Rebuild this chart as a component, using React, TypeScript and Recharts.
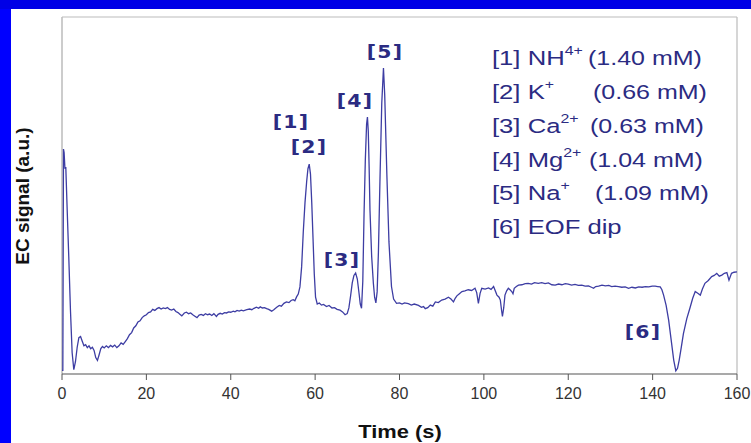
import { Line, LineChart, ReferenceLine, XAxis, YAxis } from "recharts";

// time axis (s) and EC signal (arbitrary units, 0..100 = frame height)
const seconds = [
  0, 0.2, 0.35, 0.5, 0.7, 0.9, 1.2, 1.6, 2.0, 2.4, 2.8, 3.2, 3.6, 4.0, 4.4, 4.8, 5.2, 5.6, 6.0, 6.4,
  6.8, 7.2, 7.6, 8.0, 8.4, 8.8, 9.2, 9.6, 10.0, 10.5, 11.0, 11.5, 12.0, 12.5, 13.0, 13.5, 14.0, 14.5,
  15.0, 15.5, 16.0, 16.5, 17.0, 17.5, 18.0, 18.5, 19.0, 19.5, 20.0, 20.5, 21.0, 21.5, 22.0, 22.5,
  23.0, 23.5, 24.0, 24.5, 25.0, 25.5, 26.0, 26.5, 27.0, 27.5, 28.0, 28.4, 29.0, 29.5, 30.0, 30.5,
  31.0, 31.5, 32.0, 32.5, 33.0, 33.5, 34.0, 34.5, 35.0, 35.5, 36.0, 36.6, 37.0, 37.5, 38.0, 38.5,
  39.0, 39.5, 40.0, 40.6, 41.0, 41.5, 42.0, 42.5, 43.0, 43.8, 44.5, 45.0, 45.5, 46.1, 46.6, 47.0,
  47.5, 48.0, 48.5, 49.0, 49.7, 50.2, 50.9, 51.5, 52.0, 52.6, 53.2, 53.8, 54.3, 54.8, 55.2, 55.6,
  56.0, 56.4, 56.8, 57.2, 57.6, 58.0, 58.3, 58.6, 58.9, 59.2, 59.5, 59.8, 60.1, 60.5, 61.0, 61.5,
  62.0, 62.7, 63.3, 64.0, 64.6, 65.2, 65.9, 66.5, 67.1, 67.6, 68.0, 68.4, 68.8, 69.2, 69.6, 70.0,
  70.4, 70.7, 71.0, 71.3, 71.6, 71.9, 72.2, 72.4, 72.6, 72.8, 73.0, 73.4, 73.8, 74.1, 74.4, 74.7,
  75.0, 75.4, 75.8, 76.2, 76.5, 77.0, 77.5, 78.1, 78.6, 79.3, 80.0, 80.6, 81.2, 82.1, 82.8, 83.5,
  84.5, 85.2, 85.7, 86.1, 86.7, 87.3, 87.9, 88.5, 89.2, 90.0, 90.8, 91.6, 92.2, 92.8, 93.2, 93.6,
  94.2, 94.8, 95.5, 96.3, 97.1, 97.9, 98.3, 98.7, 99.1, 99.5, 100.3, 101.1, 101.7, 102.3, 103.1,
  103.6, 103.9, 104.2, 104.4, 104.7, 105.0, 105.4, 105.8, 106.2, 106.6, 106.9, 107.2, 107.7, 108.2,
  109.0, 109.8, 110.5, 111.3, 112.0, 112.9, 113.7, 114.5, 115.3, 116.1, 116.9, 117.7, 118.5, 119.3,
  120.0, 120.8, 121.6, 122.4, 123.2, 124.0, 124.8, 125.5, 126.0, 126.5, 127.2, 128.0, 128.8, 129.6,
  130.3, 131.1, 131.9, 132.7, 133.5, 134.3, 135.1, 135.9, 136.7, 137.5, 138.3, 139.1, 139.9, 140.6,
  141.2, 141.8, 142.2, 142.6, 143.2, 143.8, 144.4, 145.0, 145.5, 145.9, 146.3, 146.8, 147.3, 148.1,
  148.9, 149.5, 150.1, 150.7, 151.3, 151.8, 152.4, 153.2, 154.0, 154.6, 155.2, 155.8, 156.4, 157.0,
  157.6, 158.1, 158.7, 159.3, 160.0,
];

const ecSignal = [
  1, 1, 63, 62, 57.5, 58, 47, 33, 18, 6, 1.2, 3.5, 7.5, 10.2, 10.5, 9.2, 7.9, 8.2, 7.4, 7.9,
  7.1, 7.5, 6.6, 4.6, 3.8, 5.4, 7.1, 7.7, 7.3, 7.9, 7.4, 8.0, 7.6, 8.1, 7.4, 7.9, 8.7, 8.3,
  9.1, 9.9, 11.0, 11.6, 12.9, 13.5, 14.6, 14.9, 15.8, 16.3, 16.6, 17.2, 17.4, 18.1, 17.8, 18.3,
  18.6, 18.2, 18.5, 18.3, 18.6, 18.1, 17.9, 18.2, 17.5, 17.2, 16.7, 16.3, 17.1, 17.3, 16.9, 17.1,
  16.6, 16.2, 15.8, 16.5, 16.7, 16.4, 16.9, 16.6, 16.8, 16.4, 16.9, 16.1, 16.7, 17.0, 16.8, 17.2,
  17.1, 17.4, 17.3, 17.6, 17.4, 17.8, 17.6, 17.9, 17.7, 18.0, 18.2, 18.0, 18.4, 18.7, 18.4, 18.8,
  18.5, 18.6, 18.3, 18.1, 17.6, 18.0, 18.7, 19.2, 19.0, 19.8, 20.2, 20.0, 20.6, 20.8, 20.5, 21.6,
  22.4, 24.4, 30, 40, 48, 54, 57.5, 58.8, 56, 48, 38, 28, 21.5, 19.6, 19.9, 19.3,
  19.5, 18.9, 19.2, 18.5, 18.6, 18.1, 17.9, 17.4, 16.6, 16.9, 18.5, 21.8, 25.5, 27.6, 28.3, 26.6,
  22.7, 19.6, 18.4, 26, 45, 60, 70, 72, 68, 58, 46, 33, 25.5, 21.5, 19.9, 23,
  34, 56, 76, 85.7, 78, 56, 37, 24.5, 21, 19.8, 19.9, 19.6, 19.9, 19.7, 19.3, 19.6,
  19.2, 18.7, 18.9, 18.3, 18.6, 19.3, 19.0, 20.2, 20.0, 20.7, 21.0, 21.5, 21.0, 20.2, 21.2, 21.9,
  22.5, 23.1, 23.3, 23.6, 23.4, 24.0, 22.8, 19.8, 22.6, 24.0, 23.8, 24.1, 23.7, 24.5, 22.1,
  21.5, 20.7, 17.8, 16.1, 18.5, 22.1, 23.3, 24.0, 23.6, 23.1, 22.5, 24.0, 24.5, 24.9,
  25.0, 25.3, 25.4, 25.2, 25.6, 25.4, 25.6, 25.3, 25.5, 25.0, 24.9, 25.2, 25.0, 25.3,
  25.2, 24.9, 25.1, 24.8, 24.9, 24.6, 24.7, 24.3, 24.0, 24.5, 24.6, 24.9, 24.7, 24.8,
  24.5, 24.6, 24.5, 24.3, 24.4, 24.0, 24.3, 24.1, 24.4, 24.3, 24.5, 24.4, 24.6, 24.6,
  24.5, 24.4, 23.6, 22.1, 19.2, 15.1, 9.5, 3.9, 0.9, 1.6, 3.9, 7.5, 11.3, 15.5,
  18.7, 21.2, 23.1, 22.6, 22.1, 23.8, 25.4, 26.2, 27.3, 27.6, 28.2, 27.4, 27.7, 28.2,
  28.4, 26.3, 28.2, 28.5, 28.6,
];

const timeTicks = [0, 20, 40, 60, 80, 100, 120, 140, 160];

const peakTags = ["[1]", "[2]", "[3]", "[4]", "[5]", "[6]"];
const ionNames = ["NH", "K", "Ca", "Mg", "Na", "EOF dip"];
const ionCharges = ["4+", "+", "2+", "2+", "+", ""];
const concentrations = ["(1.40 mM)", "(0.66 mM)", "(0.63 mM)", "(1.04 mM)", "(1.09 mM)", ""];

const data = seconds.map((t, i) => ({ t, ec: ecSignal[i] }));

// placement of the annotations (pixels)
const tagSpots = [
  { x: 291, y: 122 },
  { x: 309, y: 147 },
  { x: 342, y: 260 },
  { x: 355, y: 101 },
  { x: 385, y: 52 },
  { x: 643, y: 332 },
];
const rowTops = [58, 92, 126, 160, 193, 227];
const concLeft = [588, 593, 590, 589, 595, 0];

const NAVY = "#2b2b82";
const SANS = '"Liberation Sans", Arial, sans-serif';

export default function App() {
  return (
    <div style={{ position: "fixed", left: 0, top: 0, width: 751, height: 443, background: "#0000ff", overflow: "hidden" }}>
      <div style={{ position: "absolute", left: 0, top: 0, width: 751, height: 9, background: "#0000e6" }} />
      <div style={{ position: "absolute", left: 11, top: 9, width: 740, height: 434, background: "#ffffff" }} />

      <div style={{ position: "absolute", left: 0, top: 0 }}>
        <LineChart width={751} height={443} data={data} margin={{ top: 17, right: 14, left: 62, bottom: 0 }}>
          <XAxis
            dataKey="t"
            type="number"
            domain={[0, 160]}
            ticks={timeTicks}
            height={69}
            tickSize={6}
            tickMargin={8}
            axisLine={{ stroke: "#555", strokeWidth: 1.2 }}
            tickLine={{ stroke: "#555" }}
            tick={{ fill: "#333", fontSize: 16, fontFamily: SANS }}
          />
          <YAxis type="number" domain={[0, 100]} hide />
          <ReferenceLine x={0} stroke="#aaaaaa" strokeWidth={1.2} />
          <ReferenceLine x={160} stroke="#bbbbbb" strokeWidth={1.2} />
          <ReferenceLine y={100} stroke="#bbbbbb" strokeWidth={1.2} />
          <Line
            type="linear"
            dataKey="ec"
            stroke="#3d3da3"
            strokeWidth={1.3}
            dot={false}
            activeDot={false}
            isAnimationActive={false}
          />
        </LineChart>
      </div>

      {peakTags.map((tag, i) => (
        <div
          key={tag}
          style={{
            position: "absolute",
            left: tagSpots[i].x,
            top: tagSpots[i].y,
            transform: "translate(-50%, -50%) scaleX(1.2)",
            fontFamily: '"DejaVu Sans", Verdana, sans-serif',
            fontWeight: "bold",
            fontSize: 17,
            letterSpacing: 1,
            color: NAVY,
            whiteSpace: "nowrap",
            lineHeight: "20px",
          }}
        >
          {tag}
        </div>
      ))}

      {peakTags.map((tag, i) => (
        <div key={"row" + tag}>
          <div
            style={{
              position: "absolute",
              left: 492,
              top: rowTops[i] - 12,
              transform: "scaleX(1.25)",
              transformOrigin: "left center",
              fontFamily: SANS,
              fontSize: 20.5,
              lineHeight: "24px",
              color: NAVY,
              whiteSpace: "nowrap",
            }}
          >
            {tag} {ionNames[i]}
            {ionCharges[i] && (
              <span style={{ fontSize: "0.62em", position: "relative", top: "-0.75em" }}>{ionCharges[i]}</span>
            )}
          </div>
          {concentrations[i] && (
            <div
              style={{
                position: "absolute",
                left: concLeft[i],
                top: rowTops[i] - 12,
                transform: "scaleX(1.22)",
                transformOrigin: "left center",
                fontFamily: SANS,
                fontSize: 20.5,
                lineHeight: "24px",
                color: NAVY,
                whiteSpace: "nowrap",
              }}
            >
              {concentrations[i]}
            </div>
          )}
        </div>
      ))}

      <div
        style={{
          position: "absolute",
          left: 22.5,
          top: 196,
          transform: "translate(-50%, -50%) rotate(-90deg)",
          fontFamily: SANS,
          fontWeight: "bold",
          fontSize: 19,
          color: "#111",
          whiteSpace: "nowrap",
        }}
      >
        EC signal (a.u.)
      </div>
      <div
        style={{
          position: "absolute",
          left: 400,
          top: 432,
          transform: "translate(-50%, -50%) scaleX(1.25)",
          fontFamily: SANS,
          fontWeight: "bold",
          fontSize: 17.5,
          color: "#111",
          whiteSpace: "nowrap",
        }}
      >
        Time (s)
      </div>
    </div>
  );
}
